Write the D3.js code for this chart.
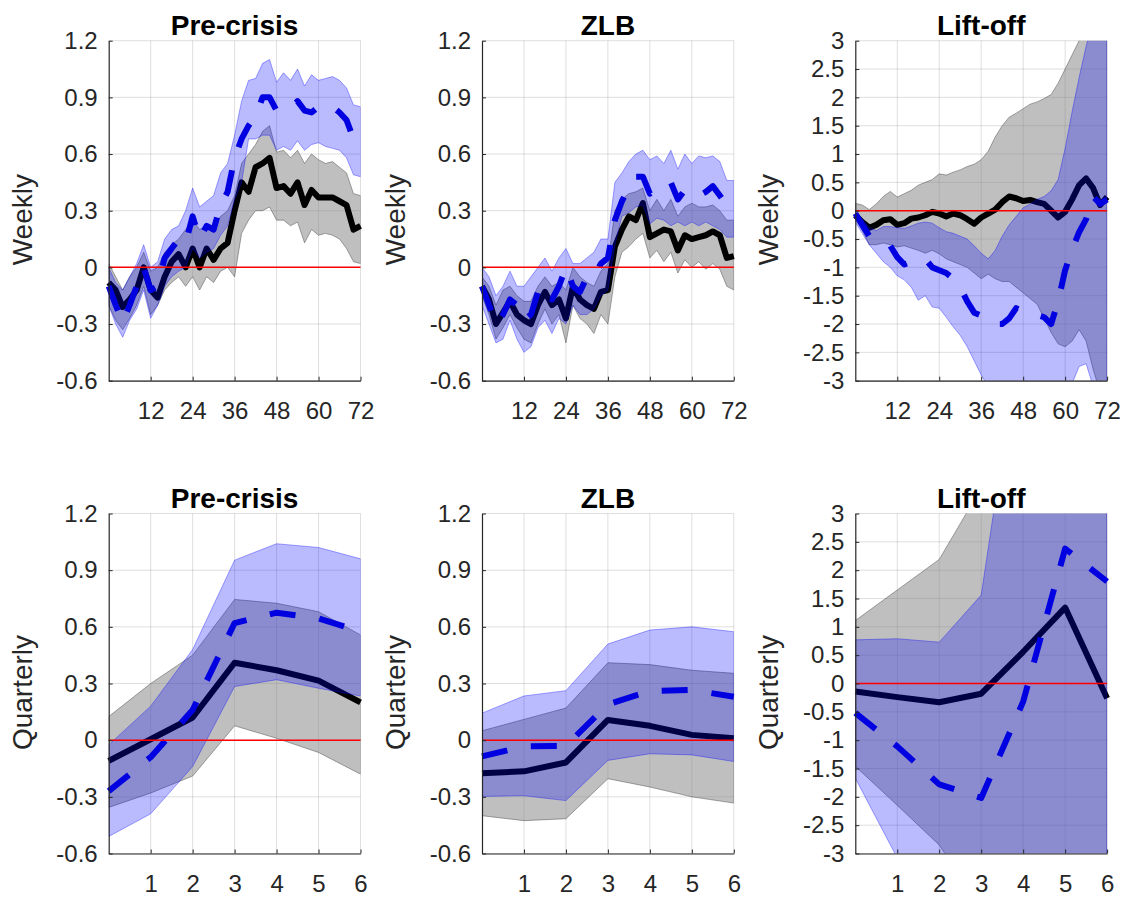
<!DOCTYPE html>
<html>
<head>
<meta charset="utf-8">
<script src="https://cdn.jsdelivr.net/npm/d3@7"></script>
<style>
  body { margin: 0; background: #fff; }
  text { font-family: "Liberation Sans", Arial, Helvetica, sans-serif; fill: #262626; }
</style>
</head>
<body>
<div id="chart"></div>
<script>
// x positions
const weeks = [0, 2, 4, 6, 8, 10, 12, 14, 16, 18, 20, 22, 24, 26, 28, 30, 32, 34, 36,
  38, 40, 42, 44, 46, 48, 50, 52, 54, 56, 58, 60, 62, 64, 66, 68, 70, 72];
const quarters = [0, 1, 2, 3, 4, 5, 6];

// tick labels
const weekTicks = [12, 24, 36, 48, 60, 72];
const quarterTicks = [1, 2, 3, 4, 5, 6];
const narrowYTicks = [-0.6, -0.3, 0, 0.3, 0.6, 0.9, 1.2];
const wideYTicks = [-3, -2.5, -2, -1.5, -1, -0.5, 0, 0.5, 1, 1.5, 2, 2.5, 3];

const titles = ["Pre-crisis", "ZLB", "Lift-off"];
const rowLabels = ["Weekly", "Quarterly"];

// Pre-crisis, weekly
const preWkBase   = [-0.08,-0.12,-0.21,-0.17,-0.12,0.0,-0.12,-0.16,-0.05,0.03,0.07,0.0,0.1,0.0,0.1,0.04,0.1,0.13,0.3,
  0.45,0.4,0.53,0.55,0.58,0.42,0.43,0.39,0.45,0.33,0.41,0.37,0.37,0.37,0.35,0.33,0.2,0.22];
const preWkBaseLo = [-0.2,-0.28,-0.33,-0.27,-0.2,-0.1,-0.25,-0.2,-0.12,-0.08,-0.05,-0.1,-0.05,-0.12,-0.05,-0.08,-0.02,0.0,-0.05,
  0.18,0.25,0.3,0.3,0.32,0.25,0.25,0.22,0.24,0.13,0.2,0.17,0.18,0.17,0.15,0.1,0.03,0.02];
const preWkBaseHi = [0.02,-0.05,-0.12,-0.05,0.0,0.08,-0.02,0.0,0.08,0.12,0.15,0.2,0.25,0.2,0.22,0.22,0.27,0.3,0.38,
  0.55,0.6,0.65,0.72,0.75,0.61,0.62,0.58,0.62,0.55,0.6,0.57,0.55,0.56,0.53,0.5,0.39,0.38];
const preWkAlt    = [-0.1,-0.2,-0.29,-0.2,-0.1,0.0,-0.12,-0.1,0.05,0.1,0.15,0.13,0.27,0.15,0.22,0.2,0.33,0.4,0.58,
  0.68,0.75,0.8,0.9,0.9,0.83,0.83,0.84,0.88,0.83,0.82,0.85,0.84,0.85,0.82,0.78,0.68,0.68];
const preWkAltLo  = [-0.2,-0.3,-0.37,-0.28,-0.22,-0.12,-0.27,-0.2,-0.1,-0.05,-0.02,0.0,0.1,0.05,0.08,0.1,0.17,0.22,0.36,
  0.45,0.68,0.68,0.7,0.7,0.62,0.64,0.62,0.67,0.62,0.65,0.66,0.64,0.63,0.62,0.58,0.49,0.48];
const preWkAltHi  = [0.0,-0.08,-0.12,-0.05,0.02,0.12,0.0,0.03,0.15,0.2,0.22,0.3,0.42,0.32,0.35,0.38,0.5,0.55,0.7,
  0.88,0.99,1.0,1.08,1.1,0.98,1.03,0.99,1.05,0.96,1.02,0.99,1.0,1.01,0.99,0.95,0.86,0.85];

// ZLB, weekly
const zlbWkBase   = [-0.1,-0.17,-0.3,-0.24,-0.18,-0.25,-0.28,-0.3,-0.2,-0.13,-0.2,-0.17,-0.27,-0.1,-0.17,-0.2,-0.22,-0.13,-0.12,
  0.11,0.2,0.27,0.25,0.34,0.16,0.18,0.2,0.19,0.09,0.17,0.15,0.16,0.17,0.19,0.17,0.05,0.06];
const zlbWkBaseLo = [-0.15,-0.25,-0.38,-0.32,-0.25,-0.32,-0.38,-0.4,-0.3,-0.22,-0.3,-0.25,-0.4,-0.2,-0.27,-0.3,-0.35,-0.25,-0.3,
  -0.05,0.08,0.11,0.15,0.18,0.05,0.09,0.03,0.08,-0.03,0.04,0.0,0.03,-0.01,0.02,-0.01,-0.1,-0.12];
const zlbWkBaseHi = [-0.05,-0.1,-0.2,-0.12,-0.1,-0.15,-0.18,-0.18,-0.1,-0.05,-0.1,-0.08,-0.12,0.0,-0.05,-0.08,-0.1,-0.02,0.02,
  0.3,0.36,0.39,0.4,0.42,0.3,0.36,0.3,0.36,0.27,0.32,0.34,0.32,0.32,0.33,0.3,0.25,0.25];
const zlbWkAlt    = [-0.1,-0.2,-0.3,-0.25,-0.17,-0.2,-0.28,-0.25,-0.13,-0.1,-0.17,-0.1,0.0,-0.1,-0.13,-0.05,-0.05,0.02,0.05,
  0.25,0.35,0.42,0.48,0.48,0.39,0.42,0.43,0.45,0.36,0.41,0.39,0.38,0.4,0.43,0.38,0.33,0.33];
const zlbWkAltLo  = [-0.2,-0.3,-0.4,-0.38,-0.28,-0.38,-0.45,-0.42,-0.32,-0.28,-0.35,-0.27,-0.3,-0.2,-0.25,-0.25,-0.22,-0.15,-0.12,
  0.12,0.27,0.29,0.32,0.33,0.23,0.26,0.25,0.22,0.24,0.22,0.24,0.22,0.24,0.22,0.2,0.16,0.16];
const zlbWkAltHi  = [0.0,-0.05,-0.15,-0.1,-0.02,-0.1,-0.1,-0.05,0.0,0.05,-0.02,0.05,0.1,0.02,0.02,0.05,0.08,0.15,0.15,
  0.45,0.5,0.56,0.6,0.62,0.57,0.59,0.55,0.62,0.52,0.6,0.55,0.59,0.58,0.59,0.56,0.46,0.46];

// Lift-off, weekly
const liftWkBase   = [-0.08,-0.2,-0.3,-0.25,-0.17,-0.15,-0.25,-0.22,-0.14,-0.12,-0.08,-0.02,-0.05,-0.1,-0.05,-0.08,-0.15,-0.23,-0.12,
  -0.05,0.02,0.15,0.25,0.22,0.17,0.19,0.15,0.12,0.0,-0.12,-0.02,0.2,0.45,0.57,0.4,0.1,0.24];
const liftWkBaseLo = [-0.15,-0.35,-0.6,-0.6,-0.57,-0.6,-0.64,-0.62,-0.66,-0.7,-0.75,-0.7,-0.76,-0.85,-0.9,-0.95,-1.0,-1.1,-1.2,
  -1.12,-1.2,-1.25,-1.25,-1.35,-1.45,-1.55,-1.65,-1.9,-2.15,-2.35,-2.4,-2.3,-2.1,-2.3,-2.8,-3.2,-3.6];
const liftWkBaseHi = [0.13,0.1,0.02,0.12,0.25,0.34,0.24,0.3,0.36,0.45,0.5,0.55,0.65,0.63,0.68,0.72,0.78,0.82,0.9,
  1.05,1.3,1.5,1.65,1.72,1.8,1.88,1.92,1.98,2.05,2.25,2.5,2.75,3.0,3.3,3.6,3.9,4.2];
const liftWkAlt    = [-0.05,-0.25,-0.45,-0.5,-0.55,-0.62,-0.82,-0.95,-0.9,-0.85,-0.85,-1.0,-1.05,-1.1,-1.2,-1.35,-1.6,-1.8,-1.85,
  -1.98,-2.0,-2.0,-1.9,-1.72,-1.78,-1.84,-1.84,-1.88,-2.0,-1.6,-1.05,-0.68,-0.38,-0.15,0.25,0.12,0.2];
const liftWkAltLo  = [-0.2,-0.4,-0.6,-0.75,-0.9,-1.0,-1.15,-1.22,-1.35,-1.58,-1.5,-1.7,-1.72,-1.88,-2.05,-2.2,-2.4,-2.65,-2.9,
  -3.1,-3.4,-3.6,-3.8,-3.9,-4.0,-4.0,-3.9,-3.8,-3.7,-3.5,-3.3,-3.05,-2.75,-2.7,-3.1,-3.5,-3.8];
const liftWkAltHi  = [0.0,-0.15,-0.3,-0.35,-0.28,-0.28,-0.3,-0.31,-0.27,-0.22,-0.2,-0.22,-0.3,-0.37,-0.4,-0.45,-0.5,-0.62,-0.75,
  -0.85,-0.7,-0.45,-0.25,-0.1,0.05,0.12,0.2,0.25,0.35,0.55,1.1,1.75,2.35,2.9,3.4,3.9,4.4];

// quarterly
const preQBase   = [-0.11, 0.005, 0.12, 0.41, 0.37, 0.315, 0.2];
const preQBaseLo = [-0.356, -0.28, -0.19, 0.076, 0.01, -0.065, -0.18];
const preQBaseHi = [0.125, 0.3, 0.45, 0.745, 0.725, 0.68, 0.557];
const preQAlt    = [-0.27, -0.09, 0.16, 0.62, 0.675, 0.645, 0.575];
const preQAltLo  = [-0.51, -0.39, -0.14, 0.284, 0.32, 0.275, 0.234];
const preQAltHi  = [-0.025, 0.18, 0.48, 0.953, 1.04, 1.02, 0.96];

const zlbQBase   = [-0.175, -0.165, -0.118, 0.107, 0.076, 0.028, 0.01];
const zlbQBaseLo = [-0.40, -0.426, -0.416, -0.204, -0.248, -0.30, -0.333];
const zlbQBaseHi = [0.05, 0.11, 0.17, 0.41, 0.40, 0.37, 0.354];
const zlbQAlt    = [-0.086, -0.033, -0.03, 0.19, 0.26, 0.266, 0.23];
const zlbQAltLo  = [-0.298, -0.294, -0.32, -0.107, -0.072, -0.078, -0.113];
const zlbQAltHi  = [0.143, 0.234, 0.262, 0.509, 0.583, 0.60, 0.574];

const liftQBase   = [-0.14, -0.24, -0.33, -0.18, 0.56, 1.34, -0.26];
const liftQBaseLo = [-1.46, -2.15, -2.85, -4.0, -4.4, -4.6, -4.4];
const liftQBaseHi = [1.11, 1.65, 2.19, 3.45, 4.2, 4.6, 4.4];
const liftQAlt    = [-0.52, -1.11, -1.78, -2.02, -0.32, 2.38, 1.8];
const liftQAltLo  = [-1.67, -3.08, -4.5, -5.0, -5.0, -5.0, -5.0];
const liftQAltHi  = [0.77, 0.79, 0.73, 1.56, 6.5, 7.0, 7.0];

const width = 1129, height = 900;
const colLeft = [108.7, 482, 855.3];
const rowTop = [40.7, 513.5];
const plotW = 251.8, plotH = 340;

const panels = [
  { t: weeks, xDomain: [0, 72], xTicks: weekTicks, yDomain: [-0.6, 1.2], yTicks: narrowYTicks,
    base: preWkBase, baseLo: preWkBaseLo, baseHi: preWkBaseHi, alt: preWkAlt, altLo: preWkAltLo, altHi: preWkAltHi },
  { t: weeks, xDomain: [0, 72], xTicks: weekTicks, yDomain: [-0.6, 1.2], yTicks: narrowYTicks,
    base: zlbWkBase, baseLo: zlbWkBaseLo, baseHi: zlbWkBaseHi, alt: zlbWkAlt, altLo: zlbWkAltLo, altHi: zlbWkAltHi },
  { t: weeks, xDomain: [0, 72], xTicks: weekTicks, yDomain: [-3, 3], yTicks: wideYTicks,
    base: liftWkBase, baseLo: liftWkBaseLo, baseHi: liftWkBaseHi, alt: liftWkAlt, altLo: liftWkAltLo, altHi: liftWkAltHi },
  { t: quarters, xDomain: [0, 6], xTicks: quarterTicks, yDomain: [-0.6, 1.2], yTicks: narrowYTicks,
    base: preQBase, baseLo: preQBaseLo, baseHi: preQBaseHi, alt: preQAlt, altLo: preQAltLo, altHi: preQAltHi },
  { t: quarters, xDomain: [0, 6], xTicks: quarterTicks, yDomain: [-0.6, 1.2], yTicks: narrowYTicks,
    base: zlbQBase, baseLo: zlbQBaseLo, baseHi: zlbQBaseHi, alt: zlbQAlt, altLo: zlbQAltLo, altHi: zlbQAltHi },
  { t: quarters, xDomain: [0, 6], xTicks: quarterTicks, yDomain: [-3, 3], yTicks: wideYTicks,
    base: liftQBase, baseLo: liftQBaseLo, baseHi: liftQBaseHi, alt: liftQAlt, altLo: liftQAltLo, altHi: liftQAltHi }
];

const svg = d3.select("#chart").append("svg")
  .attr("width", width)
  .attr("height", height);
const defs = svg.append("defs");

panels.forEach((p, i) => {
  const row = Math.floor(i / 3), col = i % 3;
  const g = svg.append("g").attr("transform", `translate(${colLeft[col]},${rowTop[row]})`);

  const x = d3.scaleLinear().domain(p.xDomain).range([0, plotW]);
  const y = d3.scaleLinear().domain(p.yDomain).range([plotH, 0]);

  // clip for bands, and a slightly wider one for the thick lines
  defs.append("clipPath").attr("id", "band" + i)
    .append("rect").attr("width", plotW).attr("height", plotH);
  defs.append("clipPath").attr("id", "line" + i)
    .append("rect").attr("x", -3).attr("y", 0).attr("width", plotW + 6).attr("height", plotH);

  // grid
  g.append("g").selectAll("line").data(p.xTicks).join("line")
    .attr("x1", d => x(d)).attr("x2", d => x(d))
    .attr("y1", 0).attr("y2", plotH)
    .attr("stroke", "#262626").attr("stroke-opacity", 0.15);
  g.append("g").selectAll("line").data(p.yTicks).join("line")
    .attr("x1", 0).attr("x2", plotW)
    .attr("y1", d => y(d)).attr("y2", d => y(d))
    .attr("stroke", "#262626").attr("stroke-opacity", 0.15);

  const band = (lo, hi) => d3.area()
    .x((d, k) => x(p.t[k]))
    .y0((d, k) => y(lo[k]))
    .y1((d, k) => y(hi[k]))(p.t);
  const line = vals => d3.line()
    .x((d, k) => x(p.t[k]))
    .y((d, k) => y(vals[k]))(p.t);

  const bands = g.append("g").attr("clip-path", `url(#band${i})`);
  const lines = g.append("g").attr("clip-path", `url(#line${i})`);

  // baseline band and mean
  bands.append("path").attr("d", band(p.baseLo, p.baseHi))
    .attr("fill", "#808080").attr("fill-opacity", 0.5)
    .attr("stroke", "#404040").attr("stroke-opacity", 0.45).attr("stroke-width", 1);
  const baseLine = g.append("g").attr("clip-path", `url(#line${i})`);
  baseLine.append("path").attr("d", line(p.base))
    .attr("fill", "none").attr("stroke", "#000").attr("stroke-width", 6)
    .attr("stroke-linejoin", "round");

  // alternative band and mean
  const altBand = g.append("g").attr("clip-path", `url(#band${i})`);
  altBand.append("path").attr("d", band(p.altLo, p.altHi))
    .attr("fill", "#0000ff").attr("fill-opacity", 0.27)
    .attr("stroke", "#0000ff").attr("stroke-opacity", 0.35).attr("stroke-width", 1);
  const altLine = g.append("g").attr("clip-path", `url(#line${i})`);
  altLine.append("path").attr("d", line(p.alt))
    .attr("fill", "none").attr("stroke", "#0000e0").attr("stroke-width", 6)
    .attr("stroke-dasharray", "26,24").attr("stroke-linejoin", "round");

  // zero line
  g.append("line")
    .attr("x1", x(p.xDomain[0])).attr("x2", x(p.xDomain[1]))
    .attr("y1", y(0)).attr("y2", y(0))
    .attr("stroke", "#ff0000").attr("stroke-width", 1.5);

  // axes
  const fmt = d => String(+d.toFixed(1));
  const yAxis = g.append("g")
    .call(d3.axisLeft(y).tickValues(p.yTicks).tickFormat(fmt)
      .tickSizeInner(-4).tickSizeOuter(0).tickPadding(11));
  const xAxis = g.append("g").attr("transform", `translate(0,${plotH})`)
    .call(d3.axisBottom(x).tickValues(p.xTicks).tickFormat(fmt)
      .tickSizeInner(-4).tickSizeOuter(0).tickPadding(21));
  [yAxis, xAxis].forEach(a => {
    a.attr("font-size", 24).attr("font-family", null).attr("color", "#262626");
    a.select(".domain").attr("stroke-width", 1.2);
  });

  // title and row label
  g.append("text")
    .attr("x", plotW / 2).attr("y", -6)
    .attr("text-anchor", "middle")
    .attr("font-size", 28).attr("font-weight", "bold")
    .style("fill", "#000")
    .text(titles[col]);

  g.append("text")
    .attr("transform", `translate(-77,${plotH / 2 + 9}) rotate(-90)`)
    .attr("text-anchor", "middle")
    .attr("font-size", 28)
    .text(rowLabels[row]);
});
</script>
</body>
</html>
